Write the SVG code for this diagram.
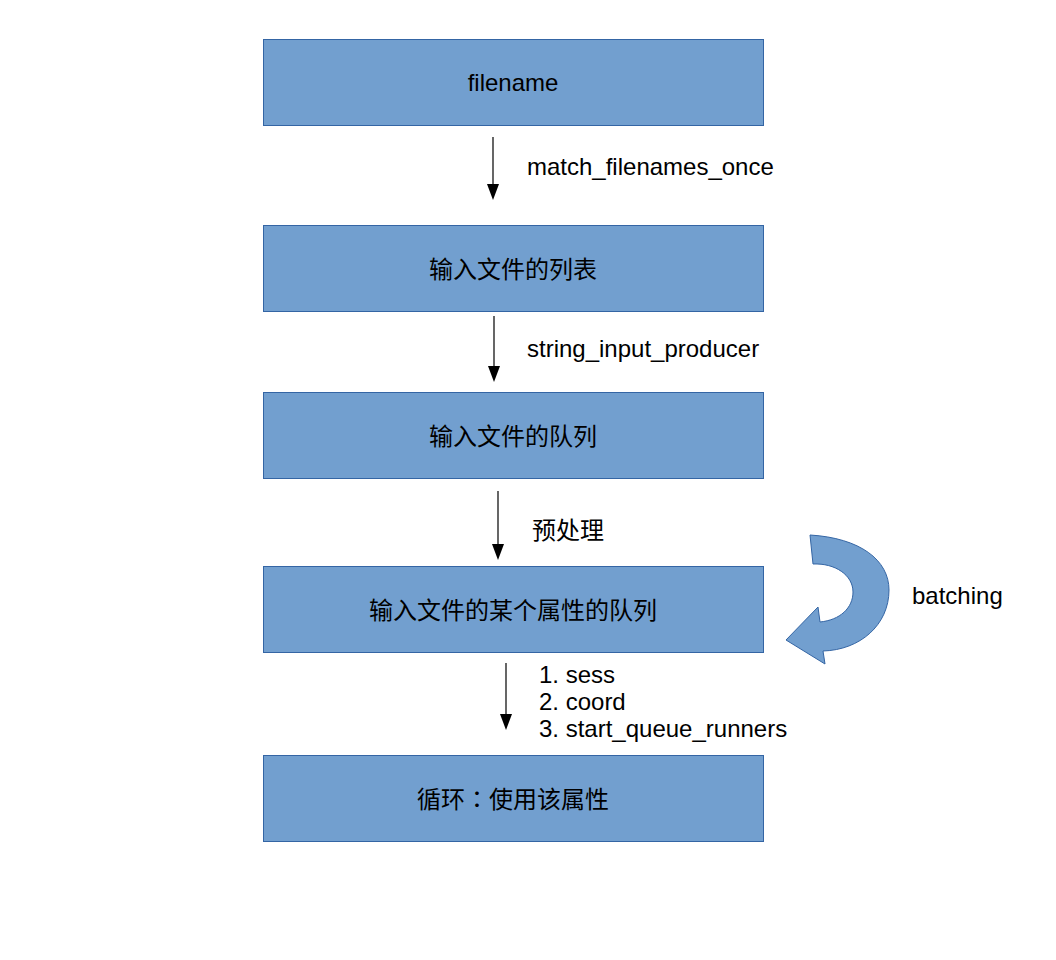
<svg xmlns="http://www.w3.org/2000/svg" width="1056" height="960" viewBox="0 0 1056 960">
<style>
.box{fill:#729fcf;stroke:#3465a4;stroke-width:1}
.t{font-family:"Liberation Sans","Noto Sans CJK SC",sans-serif;font-size:24px;fill:#000}
.tc{font-family:"Liberation Sans","Noto Sans CJK TC",sans-serif}
.c{text-anchor:middle}
.ln{stroke:#000;stroke-width:1.2;fill:none}
</style>
<rect width="1056" height="960" fill="#fff"/>
<g id="n1"><rect class="box" x="263.5" y="39.5" width="500" height="86"/><text class="t c" x="513" y="91">filename</text></g>
<g id="n2"><rect class="box" x="263.5" y="225.5" width="500" height="86"/><text class="t c" x="513" y="278">输入文件的列表</text></g>
<g id="n3"><rect class="box" x="263.5" y="392.5" width="500" height="86"/><text class="t c" x="513" y="445">输入文件的队列</text></g>
<g id="n4"><rect class="box" x="263.5" y="566.5" width="500" height="86"/><text class="t c" x="513" y="619">输入文件的某个属性的队列</text></g>
<g id="n5"><rect class="box" x="263.5" y="755.5" width="500" height="86"/><text class="t tc c" x="513" y="808">循环：使用该属性</text></g>
<g id="connectors">
<path class="ln" d="M493,137 V184"/><path d="M487,184 L499,184 L493,200 Z"/>
<path class="ln" d="M494,316 V366"/><path d="M488,366 L500,366 L494,382 Z"/>
<path class="ln" d="M498,491 V544"/><path d="M492,544 L504,544 L498,560 Z"/>
<path class="ln" d="M506,663 V714"/><path d="M500,714 L512,714 L506,730 Z"/>
<path d="M810,535 C860,538 889,560 889,590 C889,625 860,650 823,651 L825,664 L786,640 L818,607 L820,622 C840,620 853,608 853,592 C853,575 835,563 813,564 Z" fill="#729fcf" stroke="#3465a4" stroke-width="1"/>
</g>
<g id="labels">
<text class="t" x="527" y="175">match_filenames_once</text>
<text class="t" x="527" y="357">string_input_producer</text>
<text class="t" x="532" y="539">预处理</text>
<text class="t" x="912" y="604">batching</text>
<text class="t" x="539" y="683">1. sess</text>
<text class="t" x="539" y="710">2. coord</text>
<text class="t" x="539" y="737">3. start_queue_runners</text>
</g>
</svg>
